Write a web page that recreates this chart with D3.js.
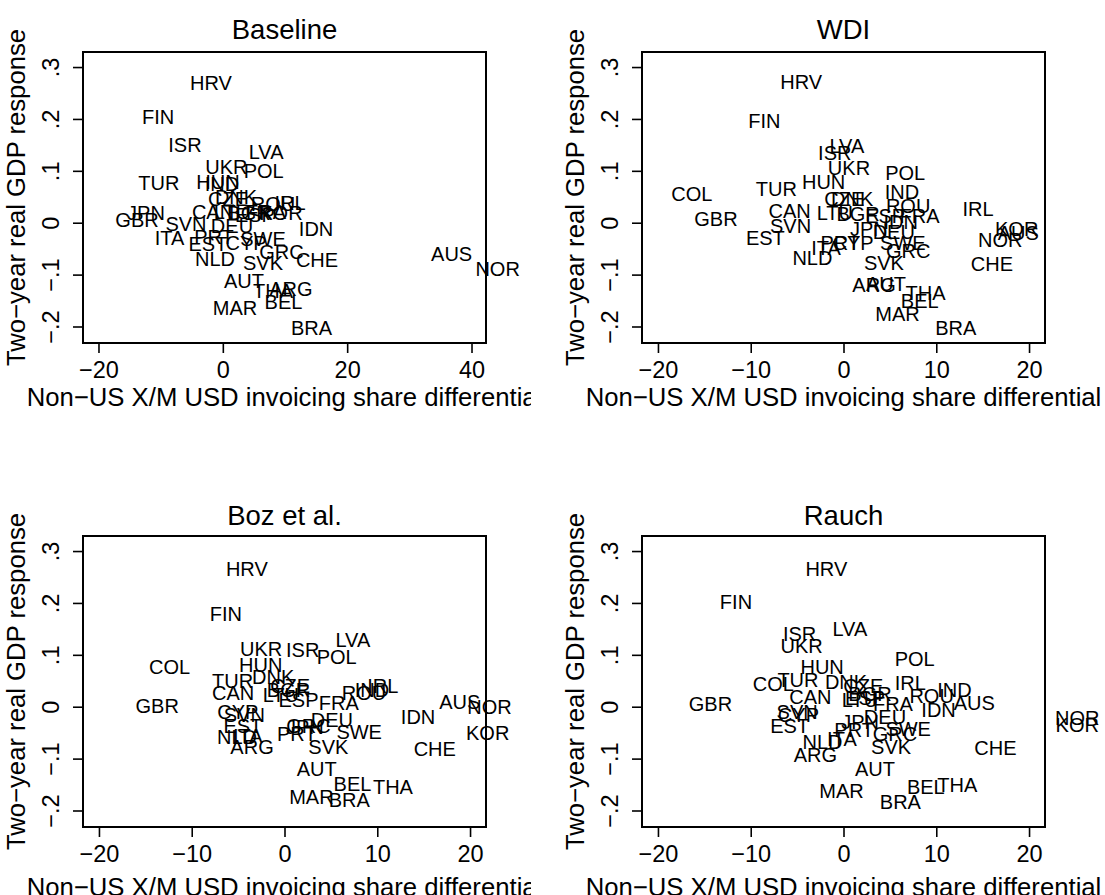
<!DOCTYPE html>
<html><head><meta charset="utf-8">
<script src="https://cdn.jsdelivr.net/npm/d3@7"></script>
<style>body{margin:0;background:#fff}svg{display:block}</style>
</head><body><svg id="chart" width="1105" height="895"></svg>
<script>
const countries = ["ARG","AUS","AUT","BEL","BGR","BRA","CAN","CHE","COL","CYP","CZE","DEU","DNK","ESP","EST","FIN","FRA","GBR","GRC","HRV","HUN","IDN","IND","IRL","ISR","ITA","JPN","KOR","LTU","LVA","MAR","NLD","NOR","POL","PRT","ROU","SVK","SVN","SWE","THA","TUR","UKR"];

const xBaseline = [10.96,36.8,3.40,9.76,4.21,14.26,-1.58,15.15,null,3.73,0.83,1.47,2.12,5.17,-2.39,-10.4,6.94,-13.8,9.43,-1.9,-0.78,15.0,-0.14,10.8,-6.09,-8.58,-12.36,9.35,1.47,6.97,1.96,-1.26,44.2,6.57,-1.42,8.07,6.46,-5.93,6.46,8.07,-10.3,0.56];
const yBaseline = [-0.128,-0.060,-0.111,-0.152,0.019,-0.202,0.021,-0.071,null,-0.039,0.046,-0.005,0.050,0.015,-0.041,0.204,0.021,0.006,-0.056,0.269,0.078,-0.012,0.075,0.039,0.150,-0.030,0.020,0.019,0.021,0.136,-0.164,-0.070,-0.089,0.101,-0.028,0.036,-0.077,-0.002,-0.031,-0.131,0.077,0.107];

const xWDI = [3.29,18.83,4.58,8.22,1.57,12.1,-5.8,16.0,-16.35,1.04,0.08,5.42,0.93,4.49,-8.42,-8.52,8.2,-13.75,6.97,-4.55,-2.14,6.17,6.29,14.5,-0.94,-1.88,2.74,18.67,-0.93,0.36,5.83,-3.35,16.9,6.65,-0.35,6.97,4.36,-5.71,6.4,8.84,-7.23,0.59];
const yWDI = [-0.120,-0.020,-0.118,-0.151,0.017,-0.202,0.0235,-0.080,0.055,-0.038,0.046,-0.018,0.046,0.013,-0.030,0.197,0.014,0.007,-0.054,0.271,0.078,0.001,0.059,0.026,0.134,-0.048,-0.012,-0.0125,0.020,0.148,-0.175,-0.067,-0.032,0.097,-0.039,0.033,-0.077,-0.005,-0.039,-0.136,0.065,0.105];

const xBoz = [-3.5,18.9,3.48,7.33,0.43,6.98,-5.54,16.2,-12.38,-5.03,0.61,5.1,-1.22,1.51,-4.49,-6.32,5.86,-13.72,2.58,-4.06,-2.56,14.4,9.43,10.6,1.96,-3.96,2.2,21.9,-0.4,7.37,2.9,-5.12,22.1,5.63,1.33,8.57,4.73,-4.33,8.05,11.69,-5.6,-2.52];
const yBoz = [-0.077,0.010,-0.119,-0.148,0.033,-0.180,0.027,-0.082,0.077,-0.010,0.041,-0.026,0.057,0.014,-0.036,0.179,0.0067,0.001,-0.036,0.265,0.080,-0.019,0.033,0.041,0.109,-0.057,-0.038,-0.050,0.023,0.128,-0.173,-0.058,-0.001,0.097,-0.052,0.026,-0.077,-0.016,-0.048,-0.154,0.049,0.1125];

const xRauch = [-3.03,14.1,3.4,8.87,2.86,6.13,-3.57,16.37,-7.56,-4.86,2.14,4.47,0.27,2.33,-5.8,-11.59,5.33,-14.34,5.54,-1.85,-2.3,10.25,11.97,7.2,-4.73,-0.17,1.79,25.2,1.78,0.69,-0.21,-2.26,25.2,7.68,1.15,9.5,5.13,-5.0,6.97,12.27,-4.91,-4.51];
const yRauch = [-0.093,0.008,-0.119,-0.155,0.024,-0.183,0.019,-0.079,0.044,-0.016,0.040,-0.020,0.048,0.018,-0.036,0.202,0.006,0.005,-0.052,0.265,0.0765,-0.006,0.033,0.046,0.141,-0.061,-0.029,-0.034,0.014,0.150,-0.162,-0.068,-0.021,0.0925,-0.045,0.022,-0.077,-0.010,-0.042,-0.151,0.0525,0.118];

const panelTitles = ["Baseline","WDI","Boz et al.","Rauch"];
const xTicksBaseline = [-20,0,20,40];
const xTicksOther = [-20,-10,0,10,20];
const yTicks = [0.3,0.2,0.1,0,-0.1,-0.2];
const xDomainBaseline = [-22.49,42.33];
const xDomainOther = [-21.72,21.72];
const yDomain = [-0.2318,0.329];
const xTitle = "Non\u2212US X/M USD invoicing share differential";
const yTitle = "Two\u2212year real GDP response";

const FONT = "'Liberation Sans', Arial, Helvetica, sans-serif";
const svg = d3.select("#chart");
svg.append("rect").attr("width",1105).attr("height",895).attr("fill","#fff");

const panels = [
  {title:panelTitles[0], xs:xBaseline, ys:yBaseline, xd:xDomainBaseline, xt:xTicksBaseline, col:0, row:0},
  {title:panelTitles[1], xs:xWDI, ys:yWDI, xd:xDomainOther, xt:xTicksOther, col:1, row:0},
  {title:panelTitles[2], xs:xBoz, ys:yBoz, xd:xDomainOther, xt:xTicksOther, col:0, row:1},
  {title:panelTitles[3], xs:xRauch, ys:yRauch, xd:xDomainOther, xt:xTicksOther, col:1, row:1}
];

const boxLeft = [83, 642], boxW = 403;
const boxTop = [52, 536], boxH = 291;
const clipX = [[0, 531], [552.5, 1105]];
const clipY = [[0, 447.5], [447.5, 895]];
const titleGap = [13, 11];
const xTitleGap = [63, 69];

const fmtMinus = v => v < 0 ? "\u2212" + Math.abs(v) : String(v);
const fmtY = v => v === 0 ? "0" : (v < 0 ? "\u2212" : "") + String(Math.abs(v)).replace(/^0/, "");

const defs = svg.append("defs");
panels.forEach((p, i) => {
  const cx = clipX[p.col], cy = clipY[p.row];
  defs.append("clipPath").attr("id","clip"+i)
    .append("rect").attr("x",cx[0]).attr("y",cy[0]).attr("width",cx[1]-cx[0]).attr("height",cy[1]-cy[0]);
  const g = svg.append("g");
  const L = boxLeft[p.col], T = boxTop[p.row];
  const x = d3.scaleLinear().domain(p.xd).range([L, L + boxW]);
  const y = d3.scaleLinear().domain(yDomain).range([T + boxH, T]);

  const xa = g.append("g").attr("transform", `translate(0,${T + boxH})`)
    .call(d3.axisBottom(x).tickValues(p.xt).tickSize(10).tickFormat(fmtMinus));
  xa.select(".domain").remove();
  xa.selectAll(".tick line").attr("stroke","#000").attr("stroke-width",1.6);
  xa.selectAll(".tick text").attr("y",35).attr("dy",0)
    .attr("font-family",FONT).attr("font-size",23.5).attr("fill","#000");

  const ya = g.append("g").attr("transform", `translate(${L},0)`)
    .call(d3.axisLeft(y).tickValues(yTicks).tickSize(10).tickFormat(fmtY));
  ya.select(".domain").remove();
  ya.selectAll(".tick line").attr("stroke","#000").attr("stroke-width",1.6);
  ya.selectAll(".tick text").attr("transform","rotate(-90)").attr("x",0).attr("y",-24).attr("dy",0)
    .attr("text-anchor","middle").attr("font-family",FONT).attr("font-size",23.5).attr("fill","#000");

  g.append("rect").attr("x",L).attr("y",T).attr("width",boxW).attr("height",boxH)
    .attr("fill","none").attr("stroke","#000").attr("stroke-width",2);

  g.append("text").attr("x",L + boxW/2).attr("y",T - titleGap[p.row]).attr("text-anchor","middle")
    .attr("font-family",FONT).attr("font-size",27.5).text(p.title);
  g.append("text").attr("clip-path","url(#clip"+i+")")
    .attr("x",L + boxW/2).attr("y",T + boxH + xTitleGap[p.row]).attr("text-anchor","middle")
    .attr("font-family",FONT).attr("font-size",25.7).text(xTitle);
  g.append("text").attr("transform",`translate(${L - 58},${T + boxH/2}) rotate(-90)`)
    .attr("text-anchor","middle").attr("font-family",FONT).attr("font-size",25.7).text(yTitle);

  const data = countries.map((c, k) => ({c, xv:p.xs[k], yv:p.ys[k]})).filter(d => d.xv !== null);
  g.append("g").selectAll("text").data(data).join("text")
    .attr("x", d => x(d.xv)).attr("y", d => y(d.yv)).attr("dy","0.36em")
    .attr("text-anchor","middle").attr("font-family",FONT).attr("font-size",20)
    .attr("fill","#000").text(d => d.c);
});
</script></body></html>
